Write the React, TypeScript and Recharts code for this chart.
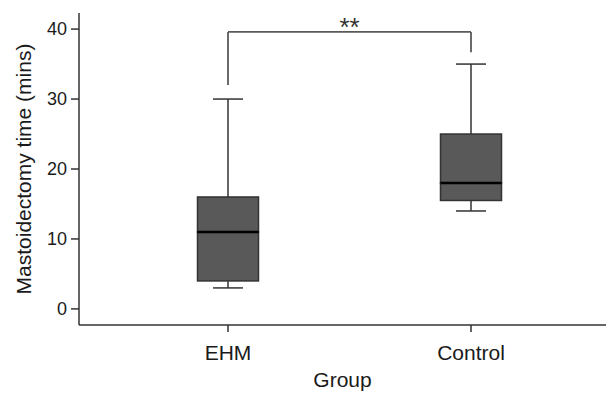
import { ComposedChart, Bar, XAxis, YAxis, ReferenceLine } from 'recharts'

const groups = ['EHM', 'Control']
const minVals = [3, 14]
const q1Vals = [4, 15.5]
const medianVals = [11, 18]
const q3Vals = [16, 25]
const maxVals = [30, 35]
const yTicks = [0, 10, 20, 30, 40]

// significance bracket (y values)
const bracketTop = 39.6
const bracketLeftEnd = 32
const bracketRightEnd = 36.7
const sigLabel = '**'

const FONT = '"Liberation Sans", Arial, sans-serif'
const INK = '#1a1a1a'
const LINE = '#333'
const BOX_FILL = '#595959'

const data = groups.map((g, i) => ({
  group: g,
  base: minVals[i],
  lowWhisker: q1Vals[i] - minVals[i],
  boxLow: medianVals[i] - q1Vals[i],
  boxHigh: q3Vals[i] - medianVals[i],
  highWhisker: maxVals[i] - q3Vals[i],
}))

const CAP = 30

const LowWhisker = (p: any) => {
  const cx = p.x + p.width / 2
  const yb = p.y + p.height
  return (
    <g>
      <line x1={cx} x2={cx} y1={p.y} y2={yb} stroke={LINE} strokeWidth={1.5} />
      <line x1={cx - CAP / 2} x2={cx + CAP / 2} y1={yb} y2={yb} stroke={LINE} strokeWidth={1.5} />
    </g>
  )
}

const HighWhisker = (p: any) => {
  const cx = p.x + p.width / 2
  return (
    <g>
      <line x1={cx} x2={cx} y1={p.y} y2={p.y + p.height} stroke={LINE} strokeWidth={1.5} />
      <line x1={cx - CAP / 2} x2={cx + CAP / 2} y1={p.y} y2={p.y} stroke={LINE} strokeWidth={1.5} />
    </g>
  )
}

const BoxPart = (p: any) => (
  <rect x={p.x} y={p.y} width={p.width} height={p.height} fill={BOX_FILL} stroke={LINE} strokeWidth={1.5} />
)

const BoxUpper = (p: any) => (
  <g>
    <rect x={p.x} y={p.y} width={p.width} height={p.height} fill={BOX_FILL} stroke={LINE} strokeWidth={1.5} />
    <line x1={p.x} x2={p.x + p.width} y1={p.y + p.height} y2={p.y + p.height} stroke="#000" strokeWidth={2.5} />
  </g>
)

export default function App() {
  return (
    <div style={{ position: 'absolute', left: 0, top: 0, fontFamily: FONT }}>
      <ComposedChart width={608} height={394} data={data} margin={{ top: 13, right: 2, bottom: 0, left: 0 }}>
        <XAxis
          dataKey="group"
          height={69}
          padding={{ left: 27.5, right: 13.5 }}
          axisLine={{ stroke: LINE, strokeWidth: 1.5 }}
          tickLine={{ stroke: LINE, strokeWidth: 1.5 }}
          tickSize={7}
          tickMargin={13}
          tick={{ fontSize: 21, fill: INK, fontFamily: FONT }}
          label={{ value: 'Group', position: 'insideBottom', offset: 7, fontSize: 21, fill: INK, fontFamily: FONT }}
        />
        <YAxis
          width={79}
          domain={[-2.3, 42.3]}
          ticks={yTicks}
          axisLine={{ stroke: LINE, strokeWidth: 1.5 }}
          tickLine={{ stroke: LINE, strokeWidth: 1.5 }}
          tickSize={8}
          tickMargin={4}
          tick={{ fontSize: 18, fill: INK, fontFamily: FONT }}
          label={{
            value: 'Mastoidectomy time (mins)',
            angle: -90,
            position: 'insideLeft',
            offset: 24,
            fontSize: 21,
            fill: INK,
            fontFamily: FONT,
            style: { textAnchor: 'middle' },
          }}
        />
        <Bar dataKey="base" stackId="b" barSize={61} fill="none" isAnimationActive={false} />
        <Bar dataKey="lowWhisker" stackId="b" barSize={61} shape={LowWhisker} isAnimationActive={false} />
        <Bar dataKey="boxLow" stackId="b" barSize={61} shape={BoxPart} isAnimationActive={false} />
        <Bar dataKey="boxHigh" stackId="b" barSize={61} shape={BoxUpper} isAnimationActive={false} />
        <Bar dataKey="highWhisker" stackId="b" barSize={61} shape={HighWhisker} isAnimationActive={false} />
        <ReferenceLine
          segment={[{ x: groups[0], y: bracketLeftEnd }, { x: groups[0], y: bracketTop }]}
          stroke="#5a5a5a"
          strokeWidth={1.8}
        />
        <ReferenceLine
          segment={[{ x: groups[0], y: bracketTop }, { x: groups[1], y: bracketTop }]}
          stroke="#5a5a5a"
          strokeWidth={1.8}
          label={{ value: sigLabel, position: 'top', offset: -4, fontSize: 26, fill: '#333', fontFamily: FONT }}
        />
        <ReferenceLine
          segment={[{ x: groups[1], y: bracketTop }, { x: groups[1], y: bracketRightEnd }]}
          stroke="#5a5a5a"
          strokeWidth={1.8}
        />
      </ComposedChart>
    </div>
  )
}
